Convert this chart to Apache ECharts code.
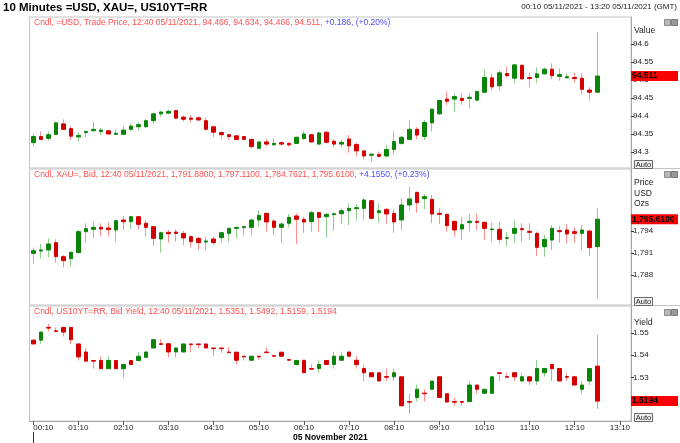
<!DOCTYPE html>
<html><head><meta charset="utf-8">
<script src="https://cdn.jsdelivr.net/npm/echarts@6/dist/echarts.min.js"></script>
<style>html,body{margin:0;padding:0;background:#fff}#c{width:680px;height:443px}</style>
</head><body><div id="c"></div>
<script>
// Categories (10-minute bars), 05 November 2021
const times = ["00:10","00:20","00:30","00:40","00:50","01:00","01:10","01:20","01:30","01:40","01:50","02:00",
"02:10","02:20","02:30","02:40","02:50","03:00","03:10","03:20","03:30","03:40","03:50","04:00",
"04:10","04:20","04:30","04:40","04:50","05:00","05:10","05:20","05:30","05:40","05:50","06:00",
"06:10","06:20","06:30","06:40","06:50","07:00","07:10","07:20","07:30","07:40","07:50","08:00",
"08:10","08:20","08:30","08:40","08:50","09:00","09:10","09:20","09:30","09:40","09:50","10:00",
"10:10","10:20","10:30","10:40","10:50","11:00","11:10","11:20","11:30","11:40","11:50","12:00",
"12:10","12:20","12:30","12:40","12:50","13:00","13:10","13:20"];

// [open, close, low, high]
const usdCandles = [
[94.326,94.343,94.315,94.352],[94.343,94.335,94.333,94.357],[94.338,94.348,94.332,94.357],[94.349,94.381,94.347,94.384],
[94.378,94.363,94.361,94.391],[94.365,94.344,94.333,94.372],[94.342,94.346,94.329,94.355],[94.354,94.357,94.340,94.359],
[94.359,94.363,94.359,94.384],[94.357,94.361,94.347,94.367],[94.359,94.350,94.348,94.361],[94.349,94.352,94.348,94.363],
[94.349,94.361,94.347,94.372],[94.363,94.372,94.359,94.380],[94.370,94.376,94.359,94.384],[94.370,94.387,94.368,94.391],
[94.387,94.406,94.378,94.410],[94.406,94.411,94.398,94.415],[94.408,94.413,94.407,94.417],[94.415,94.394,94.392,94.417],
[94.397,94.391,94.385,94.402],[94.394,94.391,94.382,94.403],[94.395,94.389,94.387,94.398],[94.387,94.363,94.359,94.396],
[94.370,94.355,94.341,94.372],[94.354,94.348,94.335,94.357],[94.348,94.343,94.333,94.350],[94.345,94.335,94.333,94.347],
[94.343,94.335,94.333,94.343],[94.335,94.315,94.309,94.337],[94.310,94.328,94.310,94.328],[94.328,94.322,94.315,94.337],
[94.320,94.324,94.317,94.337],[94.326,94.322,94.317,94.329],[94.324,94.320,94.315,94.327],[94.324,94.341,94.322,94.343],
[94.337,94.350,94.335,94.357],[94.348,94.328,94.325,94.350],[94.322,94.353,94.320,94.355],[94.355,94.327,94.324,94.357],
[94.330,94.322,94.313,94.335],[94.322,94.327,94.313,94.335],[94.336,94.317,94.298,94.347],[94.321,94.303,94.287,94.326],
[94.303,94.289,94.280,94.306],[94.291,94.294,94.273,94.296],[94.293,94.288,94.285,94.301],[94.289,94.307,94.285,94.320],
[94.307,94.329,94.292,94.357],[94.324,94.341,94.320,94.345],[94.335,94.363,94.333,94.389],[94.363,94.347,94.335,94.369],
[94.343,94.382,94.333,94.389],[94.381,94.419,94.357,94.421],[94.406,94.443,94.403,94.444],[94.447,94.441,94.431,94.468],
[94.447,94.454,94.412,94.461],[94.449,94.443,94.431,94.463],[94.449,94.452,94.421,94.463],[94.444,94.468,94.443,94.470],
[94.466,94.507,94.465,94.530],[94.506,94.481,94.472,94.518],[94.484,94.520,94.470,94.526],[94.518,94.512,94.507,94.537],
[94.505,94.542,94.491,94.544],[94.541,94.503,94.502,94.541],[94.507,94.504,94.480,94.520],[94.507,94.517,94.491,94.535],
[94.517,94.530,94.515,94.535],[94.530,94.512,94.502,94.546],[94.510,94.515,94.498,94.532],[94.506,94.509,94.505,94.520],
[94.507,94.504,94.493,94.520],[94.505,94.474,94.461,94.518],[94.472,94.466,94.443,94.480],[94.466,94.511,94.466,94.634]];

const xauCandles = [
[1790.95,1791.32,1789.59,1791.77],[1791.27,1791.41,1790.27,1792.23],[1791.41,1792.23,1790.41,1793.00],[1792.41,1790.50,1789.68,1792.86],
[1790.50,1789.95,1789.05,1790.73],[1790.23,1791.09,1789.14,1791.18],[1791.05,1793.91,1790.95,1794.14],[1793.91,1794.32,1792.41,1795.05],
[1794.23,1794.50,1793.00,1795.32],[1794.50,1794.27,1793.23,1795.05],[1794.41,1794.18,1793.23,1795.14],[1794.14,1795.41,1792.55,1795.59],
[1795.50,1795.27,1794.14,1796.05],[1795.27,1795.95,1794.27,1796.05],[1795.95,1794.91,1794.23,1796.05],[1795.05,1794.50,1793.23,1795.41],
[1794.59,1793.00,1791.95,1794.59],[1792.91,1793.77,1791.05,1793.91],[1793.82,1793.64,1792.41,1794.14],[1793.86,1793.68,1792.55,1794.23],
[1793.68,1793.05,1792.09,1794.05],[1793.23,1792.55,1791.77,1793.45],[1793.00,1792.41,1791.41,1793.14],[1792.50,1792.64,1791.41,1793.23],
[1792.91,1792.41,1792.09,1793.23],[1793.09,1793.77,1792.41,1793.91],[1793.68,1794.36,1792.55,1794.50],[1794.36,1794.50,1792.95,1794.59],
[1794.45,1794.59,1793.41,1794.82],[1794.50,1795.50,1793.41,1795.68],[1795.50,1796.14,1794.59,1796.86],[1796.41,1795.23,1793.91,1796.50],
[1795.36,1794.50,1793.45,1795.59],[1794.50,1794.95,1792.41,1795.14],[1795.05,1795.86,1794.50,1796.32],[1796.05,1795.59,1792.23,1796.41],
[1795.59,1795.23,1793.77,1795.95],[1795.27,1796.50,1793.91,1796.77],[1796.50,1795.86,1793.91,1796.64],[1795.95,1796.27,1793.09,1796.41],
[1796.23,1796.36,1794.05,1796.50],[1796.36,1796.77,1794.95,1797.09],[1796.77,1797.09,1794.82,1797.77],[1797.05,1797.18,1795.41,1797.68],
[1797.09,1798.23,1795.59,1798.50],[1798.14,1795.73,1795.59,1798.23],[1796.50,1796.77,1795.14,1797.77],[1796.95,1796.32,1794.95,1797.09],
[1796.41,1795.23,1793.77,1796.95],[1795.50,1797.55,1794.05,1798.50],[1797.55,1798.36,1796.86,1800.05],[1799.27,1797.86,1796.50,1799.36],
[1798.41,1798.68,1796.95,1799.05],[1798.32,1796.32,1795.05,1798.91],[1796.41,1796.27,1794.95,1797.09],[1796.27,1794.73,1793.91,1796.41],
[1795.32,1794.14,1793.23,1795.41],[1794.27,1794.86,1792.77,1795.95],[1795.14,1795.32,1793.91,1796.32],[1795.32,1795.18,1794.14,1796.41],
[1795.18,1794.36,1792.77,1795.27],[1794.18,1794.27,1792.55,1795.14],[1794.23,1792.86,1792.32,1795.27],[1793.00,1793.09,1791.86,1793.91],
[1793.68,1794.36,1792.41,1795.50],[1794.32,1794.18,1792.55,1795.05],[1793.95,1793.82,1792.77,1795.05],[1793.68,1791.77,1790.59,1793.91],
[1791.86,1792.86,1790.50,1793.45],[1792.77,1794.36,1791.41,1794.82],[1794.05,1793.91,1792.41,1794.68],[1794.14,1793.59,1792.32,1794.95],
[1793.91,1793.68,1792.41,1794.50],[1793.68,1794.14,1791.41,1794.82],[1794.00,1791.73,1790.59,1794.05],[1791.88,1795.61,1784.7621,1797.11]];

const yieldCandles = [
[1.5467,1.5450,1.5450,1.5470],[1.5467,1.5503,1.5450,1.5506],[1.5524,1.5521,1.5506,1.5540],[1.5509,1.5506,1.5506,1.5524],
[1.5524,1.5503,1.5484,1.5524],[1.5524,1.5469,1.5450,1.5524],[1.5450,1.5392,1.5376,1.5450],[1.5414,1.5373,1.5373,1.5432],
[1.5376,1.5373,1.5340,1.5376],[1.5376,1.5339,1.5339,1.5395],[1.5339,1.5376,1.5339,1.5395],[1.5376,1.5339,1.5339,1.5376],
[1.5339,1.5358,1.5299,1.5361],[1.5376,1.5358,1.5358,1.5376],[1.5376,1.5395,1.5373,1.5414],[1.5390,1.5414,1.5390,1.5414],
[1.5432,1.5469,1.5432,1.5469],[1.5451,1.5448,1.5448,1.5472],[1.5451,1.5414,1.5390,1.5451],[1.5414,1.5432,1.5390,1.5435],
[1.5414,1.5450,1.5414,1.5450],[1.5450,1.5447,1.5414,1.5450],[1.5450,1.5447,1.5432,1.5450],[1.5450,1.5432,1.5432,1.5450],
[1.5432,1.5429,1.5395,1.5432],[1.5432,1.5429,1.5410,1.5432],[1.5414,1.5411,1.5411,1.5435],[1.5413,1.5377,1.5358,1.5413],
[1.5395,1.5392,1.5376,1.5395],[1.5377,1.5395,1.5377,1.5395],[1.5395,1.5392,1.5380,1.5395],[1.5414,1.5411,1.5411,1.5435],
[1.5398,1.5395,1.5395,1.5398],[1.5413,1.5395,1.5395,1.5413],[1.5380,1.5377,1.5377,1.5380],[1.5358,1.5376,1.5358,1.5376],
[1.5377,1.5321,1.5321,1.5377],[1.5340,1.5337,1.5337,1.5358],[1.5340,1.5358,1.5321,1.5377],[1.5376,1.5358,1.5358,1.5376],
[1.5358,1.5395,1.5340,1.5414],[1.5377,1.5395,1.5377,1.5414],[1.5414,1.5395,1.5395,1.5414],[1.5377,1.5358,1.5340,1.5395],
[1.5340,1.5321,1.5284,1.5358],[1.5321,1.5303,1.5303,1.5321],[1.5321,1.5284,1.5284,1.5321],[1.5304,1.5301,1.5284,1.5340],
[1.5303,1.5321,1.5284,1.5340],[1.5303,1.5173,1.5173,1.5303],[1.5192,1.5189,1.5136,1.5227],[1.5210,1.5247,1.5192,1.5269],
[1.5230,1.5227,1.5192,1.5247],[1.5247,1.5284,1.5247,1.5284],[1.5303,1.5210,1.5210,1.5303],[1.5227,1.5190,1.5190,1.5227],
[1.5192,1.5189,1.5173,1.5210],[1.5192,1.5189,1.5173,1.5192],[1.5192,1.5266,1.5192,1.5284],[1.5266,1.5247,1.5227,1.5266],
[1.5229,1.5247,1.5229,1.5247],[1.5229,1.5303,1.5229,1.5303],[1.5321,1.5318,1.5284,1.5321],[1.5304,1.5301,1.5301,1.5321],
[1.5321,1.5303,1.5284,1.5321],[1.5284,1.5303,1.5284,1.5321],[1.5303,1.5284,1.5266,1.5303],[1.5284,1.5340,1.5266,1.5377],
[1.5321,1.5340,1.5303,1.5340],[1.5358,1.5339,1.5284,1.5358],[1.5340,1.5284,1.5284,1.5340],[1.5304,1.5301,1.5284,1.5321],
[1.5303,1.5266,1.5266,1.5303],[1.5247,1.5266,1.5227,1.5284],[1.5284,1.5340,1.5266,1.5340],[1.5351,1.5194,1.5159,1.5492]];

const usdTicks = [94.3,94.35,94.4,94.45,94.5,94.55,94.6];
const xauTicks = [1788,1791,1794];
const yieldTicks = [1.53,1.54,1.55];

const mainTitle = "10 Minutes =USD, XAU=, US10YT=RR";
const rangeText = "00:10 05/11/2021 - 13:20 05/11/2021 (GMT)";
const dateText = "05 November 2021";
const headers = [
  ["Cndl, =USD, Trade Price, 12:40 05/11/2021, 94.466, 94.634, 94.466, 94.511, ", "+0.186, (+0.20%)"],
  ["Cndl, XAU=, Bid, 12:40 05/11/2021, 1,791.8800, 1,797.1100, 1,784.7621, 1,795.6100, ", "+4.1550, (+0.23%)"],
  ["Cndl, US10YT=RR, Bid Yield, 12:40 05/11/2021, 1.5351, 1.5492, 1.5159, 1.5194", ""]
];

const FONT = '"Liberation Sans", Arial, sans-serif';
const UP = '#0a850a', DOWN = '#d40000', UPW = '#8fce8f', DOWNW = '#ff8f8f';
const L = 29.5, W = 601.6;
const panes = [{top:17,height:151},{top:169,height:136},{top:306,height:116}];
const yr = [[94.2556,94.675],[1783.909,1802.455],[1.510444,1.562]];

const chart = echarts.init(document.getElementById('c'));

function bodyOnly(d){ return d.map(x => [x[0], x[1], Math.min(x[0],x[1]), Math.max(x[0],x[1])]); }
function pair(data, idx){
  return [
    {type:'candlestick', xAxisIndex:idx, yAxisIndex:idx, data:data, barWidth:1, silent:true,
      itemStyle:{color:UPW,color0:DOWNW,borderColor:UPW,borderColor0:DOWNW,borderWidth:1}},
    {type:'candlestick', xAxisIndex:idx, yAxisIndex:idx, data:bodyOnly(data), barWidth:4, silent:true,
      itemStyle:{color:UP,color0:DOWN,borderColor:UP,borderColor0:DOWN,borderWidth:1}}
  ];
}
function yAx(idx, ticks, fmt){
  return {type:'value', gridIndex:idx, position:'right', min:yr[idx][0], max:yr[idx][1],
    axisLine:{show:true, lineStyle:{color:'#a8a8a8'}},
    axisTick:{show:true, length:3, inside:false, lineStyle:{color:'#333'}, customValues:ticks},
    axisLabel:{fontSize:8, color:'#222', fontFamily:FONT, margin:2, customValues:ticks, formatter:fmt},
    splitLine:{show:false}};
}
function xAx(idx, visible){
  const a = {type:'category', gridIndex:idx, data:times, boundaryGap:true, show:visible,
    axisLine:{show:true, lineStyle:{color:'#a8a8a8'}},
    axisTick:{show:true, interval:5, alignWithLabel:true, length:4, lineStyle:{color:'#555'}},
    axisLabel:{interval:5, fontSize:8, color:'#222', fontFamily:FONT, margin:3, alignMinLabel:'left'},
    splitLine:{show:false}};
  if (visible){
    a.name = dateText; a.nameLocation = 'middle'; a.nameGap = 11;
    a.nameTextStyle = {fontSize:8.5, fontWeight:'bold', color:'#000', fontFamily:FONT};
  }
  return a;
}
function hdr(idx, top){
  return {left:34, top:top, padding:0,
    text:'{r|' + headers[idx][0] + '}' + (headers[idx][1] ? '{b|' + headers[idx][1] + '}' : ''),
    textStyle:{fontWeight:'normal', rich:{
      r:{color:'#ff5050', fontSize:8.5, fontWeight:'normal', fontFamily:FONT, lineHeight:10},
      b:{color:'#4d4dff', fontSize:8.5, fontWeight:'normal', fontFamily:FONT, lineHeight:10}}}};
}

chart.setOption({
  animation:false,
  backgroundColor:'#fff',
  title:[
    {text:mainTitle, left:3, top:2, padding:0, textStyle:{fontSize:11.5, fontWeight:'bold', color:'#000', fontFamily:FONT}},
    {text:rangeText, right:3, top:3, padding:0, textStyle:{fontSize:8, fontWeight:'normal', color:'#222', fontFamily:FONT}},
    hdr(0, 18), hdr(1, 170), hdr(2, 307)
  ],
  grid: panes.map(p => ({left:L, width:W, top:p.top, height:p.height, show:true, borderColor:'#c4c4c4', borderWidth:1, backgroundColor:'#fff'})),
  xAxis:[xAx(0,false), xAx(1,false), xAx(2,true)],
  yAxis:[
    yAx(0, usdTicks, v => String(+v.toFixed(2))),
    yAx(1, xauTicks, v => v.toLocaleString('en-US')),
    yAx(2, yieldTicks, v => v.toFixed(2))
  ],
  series:[].concat(pair(usdCandles,0), pair(xauCandles,1), pair(yieldCandles,2))
});

// decorations and last-value labels placed through the library's own scales
const lasts = [
  [usdCandles[usdCandles.length-1][1], v => v.toFixed(3)],
  [xauCandles[xauCandles.length-1][1], v => v.toLocaleString('en-US',{minimumFractionDigits:4, maximumFractionDigits:4})],
  [yieldCandles[yieldCandles.length-1][1], v => v.toFixed(4)]
];
const g = [];
const txt = (x,y,t,extra) => Object.assign({type:'text', x:x, y:y, silent:true,
  style:Object.assign({text:t, fill:'#222', fontSize:8.5, fontFamily:FONT, verticalAlign:'middle'}, extra||{})});
g.push(txt(634,31,'Value'));
g.push(txt(634,183,'Price'));
g.push(txt(634,194,'USD'));
g.push(txt(634,204,'Ozs'));
g.push(txt(634,323,'Yield'));
// right column separators
[168.5, 305.5].forEach(y => g.push({type:'line', silent:true, shape:{x1:631,y1:y,x2:680,y2:y}, style:{stroke:'#c4c4c4', lineWidth:1}}));
// Auto buttons and small pane buttons
[[160,19],[297,171],[413,309]].forEach(([ya,yb]) => {
  g.push({type:'rect', silent:true, shape:{x:634.5,y:ya+0.5,width:18,height:8}, style:{fill:'#f0f0f0', stroke:'#6a6a6a', lineWidth:1}});
  g.push(txt(643.5, ya+4.5, 'Auto', {fontSize:7.5, align:'center', fill:'#222'}));
  g.push({type:'rect', silent:true, shape:{x:664.5,y:yb+0.5,width:6,height:6}, style:{fill:'#b8b8b8', stroke:'#8a8a8a', lineWidth:1}});
  g.push({type:'rect', silent:true, shape:{x:671.5,y:yb+0.5,width:6,height:6}, style:{fill:'#9a9a9a', stroke:'#7a7a7a', lineWidth:1}});
});
lasts.forEach(([v, f], i) => {
  const y = chart.convertToPixel({yAxisIndex:i}, v);
  g.push({type:'rect', silent:true, z:100, shape:{x:631,y:y-5,width:47,height:10}, style:{fill:'#ff0000'}});
  g.push(Object.assign(txt(632, y, f(v), {fontSize:8.5, fontWeight:'bold', fill:'#000'}), {z:101}));
});
// date marker tick under the first bar
const x0 = chart.convertToPixel({xAxisIndex:2}, times[0]);
g.push({type:'line', silent:true, shape:{x1:Math.round(x0)+0.5,y1:432,x2:Math.round(x0)+0.5,y2:443}, style:{stroke:'#333', lineWidth:1}});
chart.setOption({graphic:g});
</script>
</body></html>
